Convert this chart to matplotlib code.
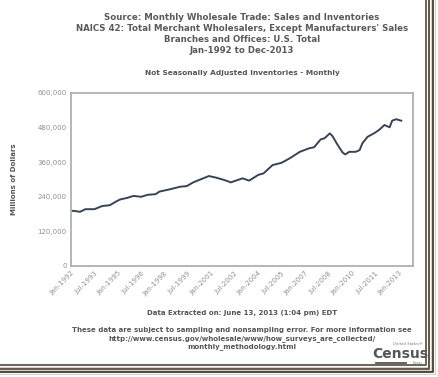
import pandas as pd
import matplotlib
matplotlib.use("Agg")
import matplotlib.pyplot as plt
from matplotlib.lines import Line2D

# inventories, millions of dollars
months = ["1992-01", "1992-05", "1992-08", "1992-12", "1993-07", "1994-01",
          "1994-07", "1994-11", "1995-03", "1995-08", "1996-01", "1996-07",
          "1996-12", "1997-06", "1997-09", "1998-05", "1999-01", "1999-06",
          "1999-11", "2000-05", "2000-11", "2001-05", "2001-11", "2002-04",
          "2002-09", "2003-01", "2003-06", "2004-01", "2004-05", "2004-12",
          "2005-07", "2006-01", "2006-09", "2007-04", "2007-08", "2008-01",
          "2008-04", "2008-08", "2008-10", "2009-02", "2009-06", "2009-08",
          "2009-11", "2010-04", "2010-07", "2010-09", "2011-01", "2011-06",
          "2011-10", "2012-02", "2012-06", "2012-08", "2012-11", "2013-03"]
inventories = [192000, 190000, 188000, 197000, 197000, 208000,
               211000, 222000, 231000, 236000, 243000, 240000,
               247000, 249000, 258000, 266000, 275000, 277000,
               290000, 301000, 312000, 306000, 298000, 290000,
               298000, 304000, 296000, 316000, 321000, 350000,
               358000, 373000, 396000, 408000, 412000, 439000,
               443000, 460000, 451000, 420000, 393000, 387000,
               396000, 396000, 402000, 425000, 448000, 460000,
               472000, 489000, 481000, 504000, 509000, 504000]

yticks = [0, 120000, 240000, 360000, 480000, 600000]
xtick_dates = pd.date_range("1992-01-01", "2013-01-01", freq="18MS")

titles = ["Source: Monthly Wholesale Trade: Sales and Inventories",
          "NAICS 42: Total Merchant Wholesalers, Except Manufacturers' Sales",
          "Branches and Offices: U.S. Total",
          "Jan-1992 to Dec-2013"]
subtitle = "Not Seasonally Adjusted Inventories - Monthly"
notes = ["These data are subject to sampling and nonsampling error. For more information see",
         "http://www.census.gov/wholesale/www/how_surveys_are_collected/",
         "monthly_methodology.html"]

W, H = 439, 377
fig = plt.figure(figsize=(W / 100, H / 100), dpi=100)
fig.patch.set_facecolor("white")

ax = fig.add_axes([71 / W, 1 - 266 / H, (413 - 71) / W, (266 - 93) / H])
dates = pd.to_datetime(months)
ax.plot(dates, inventories, color="#34445a", lw=1.4)

ax.set_xlim(pd.Timestamp("1992-01-01"), pd.Timestamp("2013-12-01"))
ax.set_ylim(0, 600000)
ax.set_yticks(yticks)
ax.set_yticklabels([f"{v:,}" for v in yticks])
ax.set_xticks(xtick_dates)
ax.set_xticklabels([d.strftime("%b-%Y") for d in xtick_dates], rotation=45,
                   ha="right", rotation_mode="anchor")
ax.tick_params(axis="both", length=0, labelsize=5, labelcolor="#909090", pad=3)
for s in ax.spines.values():
    s.set_color("#b0b0b0")
    s.set_linewidth(1.3)
ax.set_ylabel("Millions of Dollars", fontsize=5, fontweight="bold",
              color="#555555", labelpad=15)

for i, t in enumerate(titles):
    fig.text(242 / W, 1 - (17 + 11.2 * i) / H, t, ha="center", va="center",
             fontsize=6.2, fontweight="bold", color="#5a5a5a")
fig.text(242 / W, 1 - 73 / H, subtitle, ha="center", va="center",
         fontsize=5.3, fontweight="bold", color="#555555")
fig.text(242 / W, 1 - 313 / H, "Data Extracted on: June 13, 2013 (1:04 pm) EDT",
         ha="center", va="center", fontsize=5, fontweight="bold", color="#555555")
for i, t in enumerate(notes):
    fig.text(242 / W, 1 - (330 + 8.5 * i) / H, t, ha="center", va="center",
             fontsize=5, fontweight="bold", color="#555555")

# census logo
fig.text(400 / W, 1 - 354 / H, "Census", ha="center", va="center",
         fontsize=10, fontweight="bold", color="#555555", family="Liberation Sans Narrow")
fig.text(423 / W, 1 - 344 / H, "United States\u00ae", ha="right", va="center",
         fontsize=2.8, style="italic", color="#777777")
fig.add_artist(Line2D([376 / W, 406 / W], [1 - 362.5 / H] * 2, color="#555555", lw=1.3))
fig.text(423 / W, 1 - 363 / H, "Bureau", ha="right", va="center",
         fontsize=2, color="#777777")

# photo frame edges
for off, col in [(0, "#6e6455"), (3.5, "#5e5648"), (7, "#4f483c")]:
    xr = (426 + off) / W
    yb = 1 - (365 + off) / H
    fig.add_artist(Line2D([xr, xr, 0], [1, yb, yb], color=col, lw=1.4))
    fig.add_artist(Line2D([xr + 1.6 / W, xr + 1.6 / W, 0],
                          [1, yb - 1.6 / H, yb - 1.6 / H], color="#d8d0c0", lw=0.8))

fig.savefig("out.png", dpi=100, facecolor="white")
